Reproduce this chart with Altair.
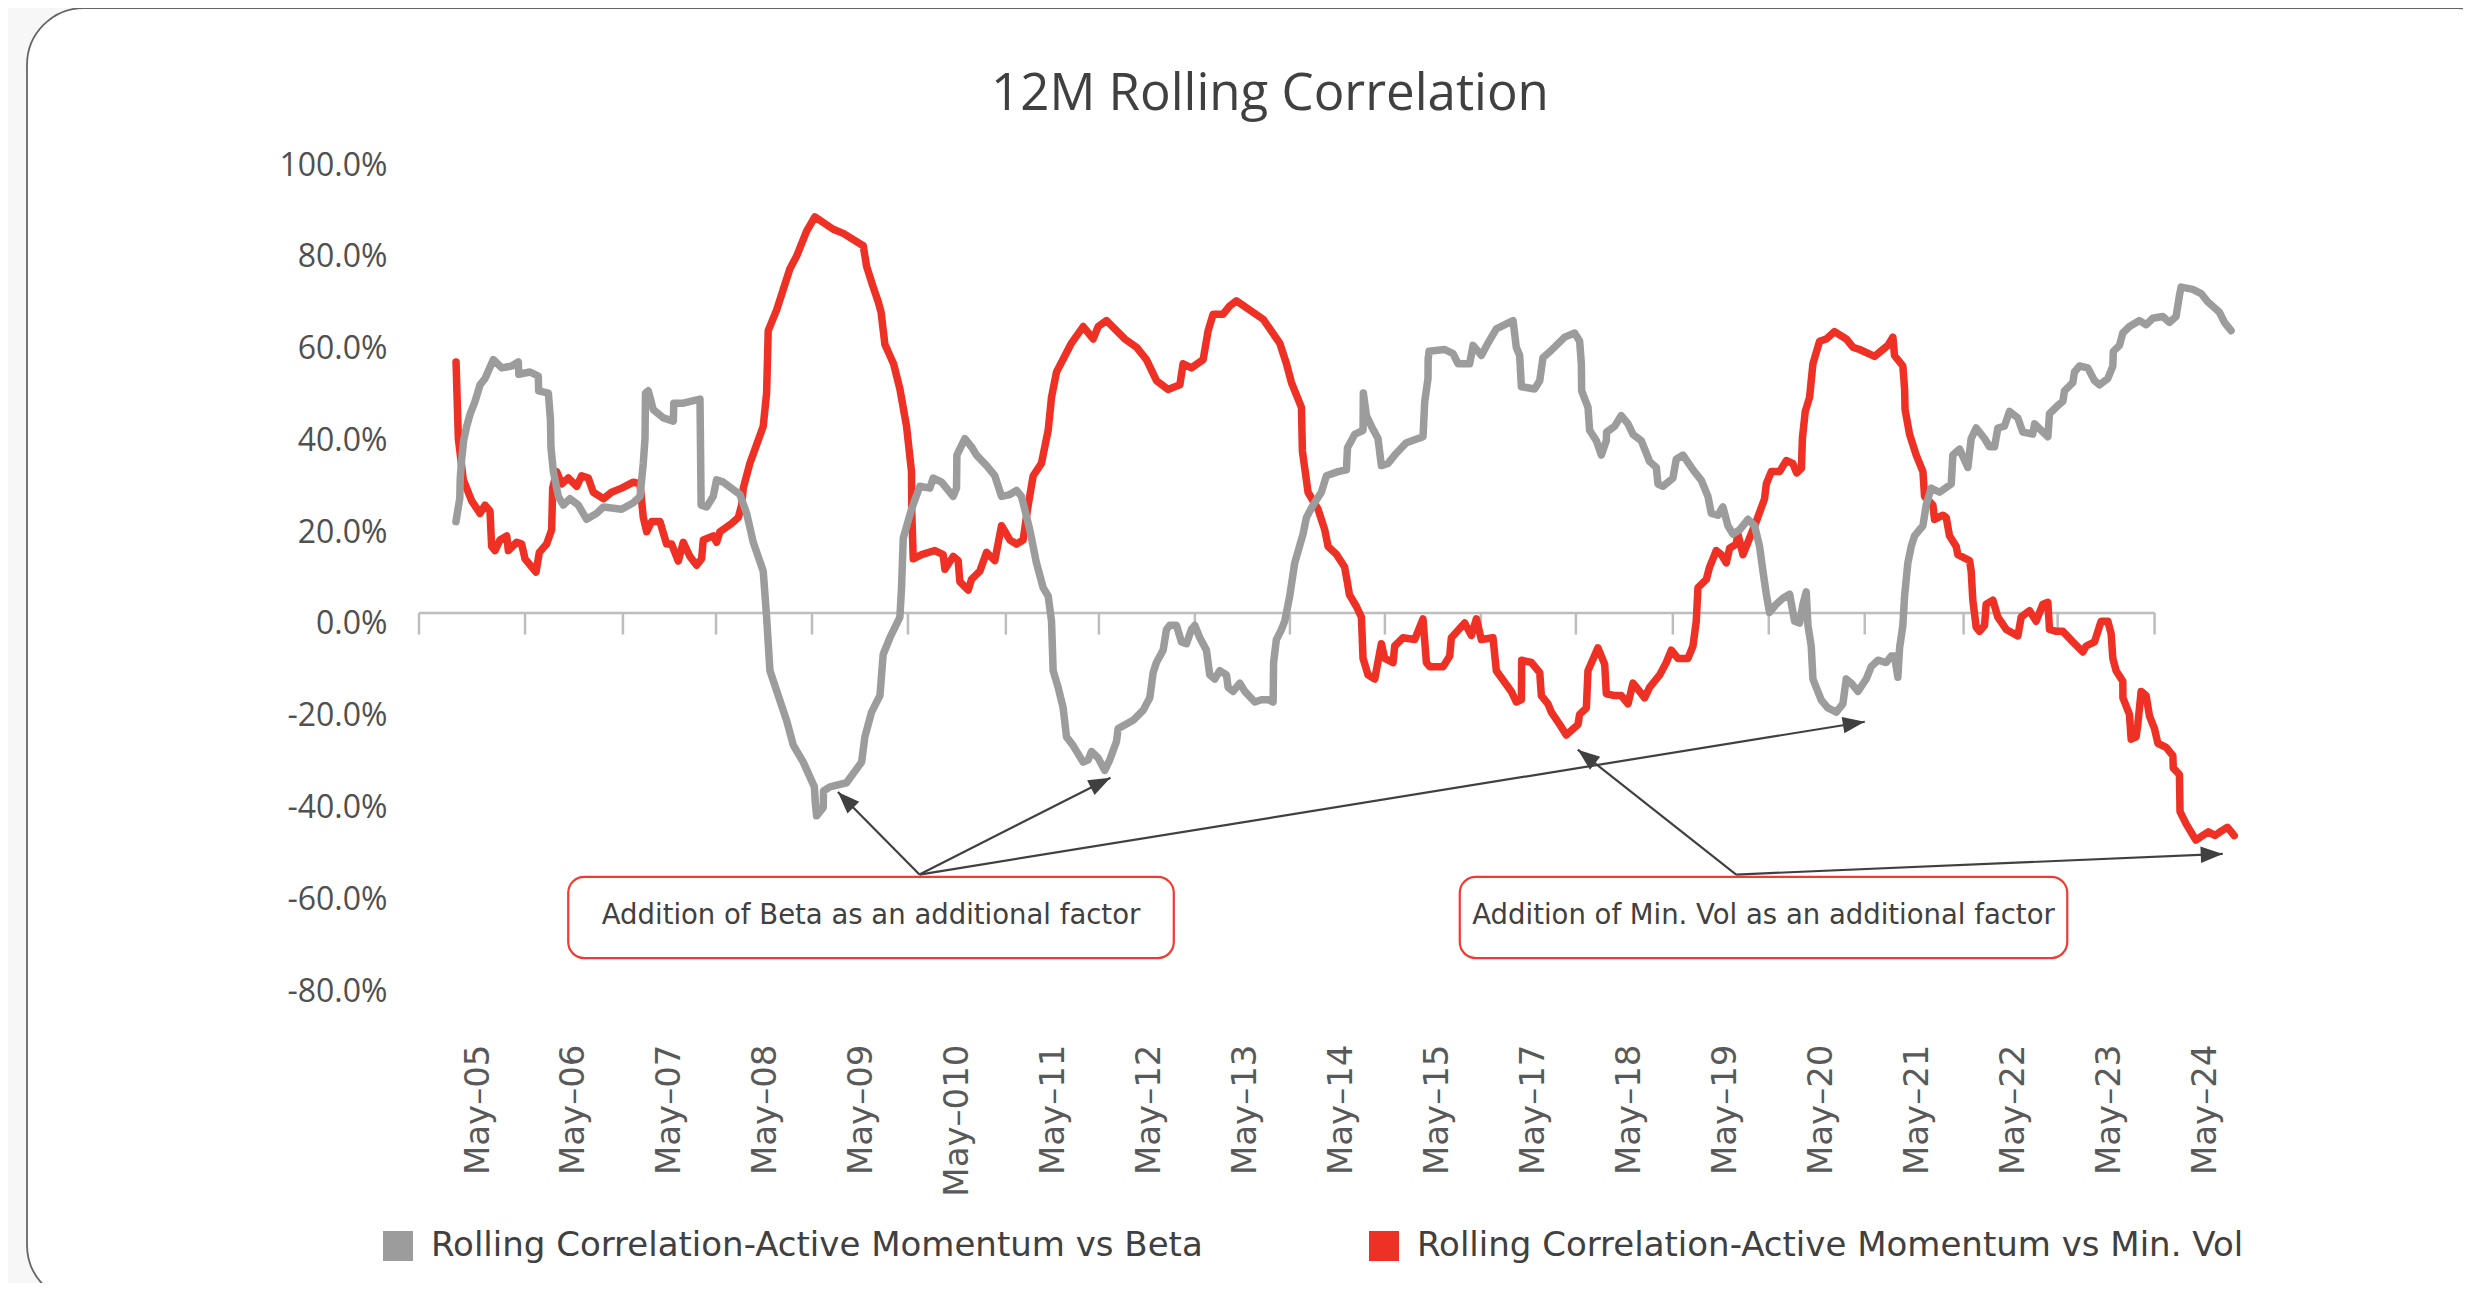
import math
import altair as alt
import pandas as pd

# ---------------- data ----------------
TITLE = "12M Rolling Correlation"
S_BETA = "Rolling Correlation-Active Momentum vs Beta"
S_MINVOL = "Rolling Correlation-Active Momentum vs Min. Vol"

x_labels = ["May–05", "May–06", "May–07", "May–08", "May–09", "May–010", "May–11",
            "May–12", "May–13", "May–14", "May–15", "May–17", "May–18", "May–19",
            "May–20", "May–21", "May–22", "May–23", "May–24"]
x_label_pos = list(range(len(x_labels)))
y_ticks = [-80, -60, -40, -20, 0, 20, 40, 60, 80, 100]

axis_t = [-0.615, 0.49, 1.51, 2.48, 3.48, 4.48, 5.50, 6.47, 7.47, 8.46, 9.45,
          10.45, 11.44, 12.45, 13.45, 14.45, 15.48, 16.46, 17.47]

red_t = [-0.229, -0.205, -0.153, -0.066, 0.021, 0.073, 0.125, 0.142, 0.177, 0.229, 0.299, 0.316,
         0.403, 0.455, 0.490, 0.604, 0.639, 0.715, 0.767, 0.778, 0.819, 0.872, 0.941, 1.028,
         1.080, 1.149, 1.201, 1.306, 1.392, 1.497, 1.618, 1.688, 1.722, 1.757, 1.809, 1.896,
         1.965, 2.017, 2.087, 2.139, 2.208, 2.278, 2.330, 2.347, 2.451, 2.486, 2.521, 2.642,
         2.712, 2.747, 2.764, 2.833, 2.972, 3.007, 3.024, 3.111, 3.250, 3.319, 3.424, 3.510,
         3.701, 3.806, 4.014, 4.049, 4.118, 4.170, 4.20, 4.24, 4.33, 4.396, 4.465, 4.517,
         4.52, 4.535, 4.622, 4.760, 4.847, 4.865, 4.951, 5.003, 5.021, 5.108, 5.142, 5.229,
         5.299, 5.385, 5.455, 5.542, 5.611, 5.680, 5.733, 5.785, 5.871, 5.941, 5.976, 6.028,
         6.184, 6.306, 6.410, 6.462, 6.549, 6.739, 6.861, 6.965, 7.070, 7.191, 7.313, 7.347,
         7.434, 7.556, 7.608, 7.660, 7.764, 7.833, 7.903, 8.181, 8.354, 8.424, 8.476, 8.580,
         8.59, 8.649, 8.753, 8.823, 8.858, 8.944, 9.03, 9.06, 9.08, 9.153, 9.205, 9.222,
         9.274, 9.344, 9.413, 9.448, 9.535, 9.552, 9.639, 9.760, 9.847, 9.882, 9.917, 10.056,
         10.125, 10.142, 10.281, 10.351, 10.403, 10.455, 10.576, 10.611, 10.767, 10.819, 10.872, 10.875,
         10.976, 11.063, 11.080, 11.149, 11.184, 11.271, 11.340, 11.462, 11.479, 11.549, 11.566, 11.670,
         11.740, 11.757, 11.844, 11.913, 11.983, 12.035, 12.104, 12.156, 12.208, 12.313, 12.382, 12.434,
         12.503, 12.608, 12.660, 12.694, 12.712, 12.799, 12.833, 12.903, 12.955, 13.007, 13.042, 13.111,
         13.128, 13.181, 13.267, 13.319, 13.406, 13.424, 13.476, 13.563, 13.632, 13.70, 13.74, 13.79,
         13.80, 13.83, 13.875, 13.910, 13.979, 14.049, 14.135, 14.257, 14.326, 14.396, 14.552, 14.639,
         14.691, 14.743, 14.760, 14.847, 14.865, 14.87, 14.917, 14.986, 15.056, 15.073, 15.160, 15.177,
         15.264, 15.299, 15.333, 15.403, 15.420, 15.542, 15.559, 15.576, 15.611, 15.646, 15.698, 15.715,
         15.785, 15.837, 15.924, 16.045, 16.080, 16.167, 16.236, 16.306, 16.358, 16.375, 16.444, 16.514,
         16.618, 16.722, 16.757, 16.844, 16.913, 16.983, 17.017, 17.035, 17.069, 17.139, 17.14, 17.208,
         17.226, 17.278, 17.295, 17.330, 17.382, 17.417, 17.469, 17.504, 17.590, 17.660, 17.665, 17.729,
         17.735, 17.80, 17.90, 17.97, 18.03, 18.10, 18.16, 18.23, 18.30]
red_v = [54.7, 38.0, 29.0, 24.4, 21.7, 23.5, 22.2, 14.5, 13.6, 15.9, 16.8, 13.6,
         15.4, 15.0, 11.8, 8.9, 13.2, 15.0, 18.1, 27.2, 30.8, 28.1, 29.4, 27.6,
         29.9, 29.4, 26.3, 24.9, 26.3, 27.2, 28.5, 28.1, 20.8, 17.7, 19.9, 19.9,
         15.0, 15.0, 11.3, 15.4, 12.3, 10.4, 11.8, 15.9, 16.8, 15.4, 17.7, 19.5,
         20.8, 23.5, 27.2, 32.6, 40.7, 47.9, 61.5, 66.0, 75.0, 77.7, 83.2, 86.3,
         83.6, 82.7, 80.0, 75.5, 71.0, 67.8, 65.5, 58.5, 54.3, 48.8, 40.7, 30.8,
         21.7, 11.8, 12.7, 13.6, 12.7, 9.5, 12.3, 11.4, 6.8, 5.0, 7.3, 9.1,
         13.2, 11.4, 19.0, 15.9, 15.0, 15.9, 23.5, 29.9, 32.6, 39.8, 47.0, 52.5,
         58.8, 62.4, 59.7, 62.4, 63.7, 59.7, 57.9, 55.2, 50.6, 48.7, 49.7, 54.3,
         53.4, 55.2, 61.5, 65.1, 65.1, 66.9, 68.0, 64.0, 58.8, 54.3, 50.2, 44.8,
         35.3, 26.3, 22.6, 18.1, 14.5, 12.8, 10.0, 6.5, 4.0, 1.4, -0.9, -9.9,
         -13.5, -14.4, -6.7, -9.9, -10.8, -7.2, -5.4, -5.8, -1.3, -10.8, -11.7, -11.7,
         -9.4, -5.4, -2.2, -4.9, -1.3, -5.8, -5.4, -12.6, -17.1, -19.4, -18.9, -10.3,
         -10.8, -13.0, -18.0, -19.8, -21.6, -24.3, -26.6, -24.3, -22.1, -20.7, -12.6, -7.6,
         -11.2, -17.6, -18.0, -18.0, -19.8, -15.3, -17.1, -18.5, -16.2, -13.5, -10.8, -8.1,
         -9.9, -9.9, -7.2, -1.8, 5.5, 7.3, 10.0, 13.6, 12.7, 10.9, 14.1, 15.0,
         17.2, 12.7, 17.2, 19.9, 24.9, 28.1, 30.8, 30.8, 33.2, 32.6, 30.5, 31.5,
         38.0, 43.9, 47.0, 54.3, 59.2, 59.7, 61.3, 59.7, 57.9, 57.4, 55.9, 57.4,
         58.3, 60.1, 56.1, 53.8, 48.8, 44.3, 38.9, 34.4, 30.8, 25.4, 23.5, 20.4,
         21.3, 20.8, 16.8, 14.5, 12.7, 11.4, 9.1, 2.8, -3.1, -4.0, -2.7, 1.9,
         2.8, -0.9, -3.6, -5.0, -0.9, 0.5, -1.8, 1.9, 2.3, -3.6, -4.0, -4.0,
         -6.3, -8.5, -7.2, -6.3, -1.8, -1.8, -4.5, -9.9, -12.6, -14.9, -18.5, -22.1,
         -27.5, -27.0, -24.3, -17.1, -18.0, -22.5, -25.2, -28.4, -29.3, -31.1, -33.8, -35.2,
         -43.3, -46.0, -49.5, -48.5, -47.7, -48.5, -47.6, -46.7, -48.5]

gray_t = [-0.23, -0.19, -0.185, -0.17, -0.15, -0.12, -0.08, -0.031, 0.021, 0.073, 0.160, 0.247,
          0.351, 0.420, 0.425, 0.542, 0.628, 0.632, 0.733, 0.755, 0.76, 0.785, 0.837, 0.889,
          0.958, 1.045, 1.132, 1.236, 1.306, 1.497, 1.618, 1.688, 1.722, 1.740, 1.745, 1.774,
          1.826, 1.931, 2.035, 2.04, 2.139, 2.313, 2.325, 2.382, 2.451, 2.486, 2.556, 2.729,
          2.799, 2.868, 2.972, 3.007, 3.042, 3.215, 3.285, 3.389, 3.505, 3.515, 3.528, 3.597,
          3.60, 3.667, 3.840, 3.997, 4.031, 4.101, 4.188, 4.222, 4.292, 4.396, 4.413, 4.431,
          4.517, 4.604, 4.708, 4.743, 4.830, 4.951, 4.986, 4.99, 5.073, 5.142, 5.194, 5.299,
          5.385, 5.455, 5.542, 5.611, 5.663, 5.750, 5.819, 5.889, 5.941, 5.976, 5.993, 6.045,
          6.097, 6.132, 6.201, 6.306, 6.358, 6.392, 6.462, 6.531, 6.583, 6.653, 6.670, 6.826,
          6.931, 7.000, 7.035, 7.069, 7.139, 7.174, 7.208, 7.278, 7.330, 7.382, 7.434, 7.469,
          7.521, 7.590, 7.625, 7.677, 7.729, 7.799, 7.816, 7.868, 7.938, 7.990, 8.094, 8.163,
          8.233, 8.285, 8.29, 8.319, 8.372, 8.406, 8.458, 8.510, 8.597, 8.632, 8.701, 8.788,
          8.840, 8.962, 9.049, 9.06, 9.135, 9.222, 9.225, 9.257, 9.309, 9.378, 9.413, 9.483,
          9.569, 9.674, 9.847, 9.865, 9.899, 9.90, 9.91, 10.073, 10.160, 10.212, 10.333, 10.368,
          10.455, 10.524, 10.611, 10.785, 10.819, 10.854, 10.872, 11.010, 11.063, 11.097, 11.167, 11.323,
          11.427, 11.479, 11.497, 11.50, 11.566, 11.583, 11.653, 11.705, 11.757, 11.76, 11.844, 11.913,
          11.983, 12.035, 12.122, 12.208, 12.278, 12.295, 12.347, 12.451, 12.486, 12.556, 12.660, 12.747,
          12.816, 12.851, 12.920, 12.972, 13.024, 13.076, 13.146, 13.233, 13.302, 13.354, 13.389, 13.424,
          13.458, 13.528, 13.597, 13.667, 13.719, 13.771, 13.806, 13.840, 13.858, 13.892, 13.910, 13.997,
          14.066, 14.153, 14.222, 14.257, 14.309, 14.379, 14.465, 14.517, 14.587, 14.674, 14.726, 14.760,
          14.795, 14.813, 14.847, 14.865, 14.899, 14.934, 14.969, 15.056, 15.090, 15.142, 15.229, 15.351,
          15.368, 15.438, 15.524, 15.559, 15.611, 15.698, 15.750, 15.802, 15.837, 15.906, 15.958, 16.045,
          16.097, 16.20, 16.22, 16.288, 16.358, 16.375, 16.462, 16.514, 16.531, 16.618, 16.635, 16.688,
          16.774, 16.844, 16.896, 16.983, 17.035, 17.04, 17.104, 17.139, 17.208, 17.313, 17.382, 17.451,
          17.556, 17.625, 17.694, 17.729, 17.747, 17.868, 17.955, 18.024, 18.146, 18.198, 18.267]
gray_v = [19.9, 25.0, 29.5, 33.5, 37.5, 40.5, 43.5, 46.1, 49.7, 51.1, 55.2, 53.4,
          53.8, 54.7, 52.0, 52.5, 51.6, 48.4, 47.9, 42.0, 36.0, 30.8, 25.4, 23.5,
          24.9, 23.5, 20.4, 21.7, 23.1, 22.6, 24.0, 25.4, 32.6, 38.0, 47.9, 48.4,
          44.3, 42.5, 41.8, 45.7, 45.7, 46.6, 23.5, 23.1, 25.4, 29.0, 28.5, 25.8,
          21.7, 15.4, 9.1, -0.9, -12.6, -23.4, -28.8, -32.5, -37.9, -41.5, -44.2, -42.4,
          -38.8, -37.9, -37.0, -32.5, -27.0, -21.6, -18.0, -9.0, -5.4, -0.9, 5.5, 16.3,
          22.6, 27.6, 27.2, 29.4, 28.5, 25.4, 27.2, 34.4, 38.0, 36.2, 34.4, 32.1,
          29.9, 25.4, 25.8, 26.7, 25.4, 18.1, 10.9, 5.5, 3.7, -1.8, -12.6, -16.2,
          -20.7, -27.0, -28.9, -32.5, -32.0, -30.2, -31.6, -34.3, -32.0, -28.0, -25.2, -23.4,
          -21.2, -18.5, -13.0, -10.8, -8.1, -3.6, -2.7, -2.7, -6.3, -6.7, -3.6, -2.7,
          -5.4, -8.1, -13.5, -14.4, -12.6, -13.5, -16.2, -17.1, -15.3, -17.1, -19.4, -18.9,
          -18.9, -19.4, -10.8, -5.8, -3.6, -1.8, 3.7, 10.9, 17.2, 20.8, 23.5, 26.3,
          29.9, 30.8, 31.2, 36.0, 38.9, 39.8, 47.9, 43.0, 40.7, 38.0, 32.1, 32.6,
          34.8, 37.1, 38.4, 46.1, 51.1, 55.2, 57.0, 57.4, 56.5, 54.3, 54.3, 58.3,
          56.1, 58.8, 61.9, 63.7, 57.9, 56.1, 49.3, 48.8, 50.6, 55.6, 56.9, 60.1,
          61.0, 59.2, 54.3, 48.4, 44.8, 39.8, 37.5, 34.4, 37.5, 39.4, 40.7, 43.0,
          41.2, 38.9, 37.5, 33.0, 31.7, 28.1, 27.6, 29.4, 33.5, 34.4, 31.2, 28.9,
          25.4, 21.7, 21.3, 23.1, 19.0, 17.2, 18.1, 20.4, 19.0, 14.5, 9.1, 4.1,
          0.1, 1.9, 3.2, 4.1, -1.8, -2.2, 1.9, 4.6, -2.7, -7.2, -14.4, -19.0,
          -20.7, -21.6, -19.8, -14.4, -15.3, -17.1, -14.4, -11.7, -10.3, -10.8, -9.4, -9.4,
          -14.0, -7.6, -2.7, 3.7, 10.9, 14.5, 16.8, 19.0, 23.5, 27.2, 26.3, 28.1,
          34.4, 35.7, 31.7, 38.0, 40.3, 38.0, 36.2, 36.2, 40.3, 40.7, 43.9, 42.5,
          39.4, 39.0, 41.2, 39.8, 38.4, 43.4, 45.2, 46.1, 48.4, 50.2, 52.5, 53.8,
          53.4, 50.6, 49.7, 51.1, 53.8, 57.0, 58.3, 61.0, 62.4, 63.7, 62.8, 64.2,
          64.6, 63.3, 64.6, 69.2, 71.0, 70.5, 69.6, 67.8, 65.5, 63.3, 61.5]

note_text = ["Addition of Beta as an additional factor",
             "Addition of Min. Vol as an additional factor"]
note_t0 = [0.94, 10.23]
note_t1 = [7.25, 16.56]
note_v_top = [-57.5, -57.5]
note_v_bot = [-75.2, -75.2]
note_text_v = [-66.0, -66.0]

arrow_src_t = [4.60, 4.60, 4.60, 13.11, 13.11]
arrow_src_v = [-57.0, -57.0, -57.0, -57.0, -57.0]
arrow_tip_t = [3.75, 6.59, 14.45, 11.46, 18.18]
arrow_tip_v = [-39.0, -35.9, -23.7, -29.8, -52.5]

# ---------------- style / layout ----------------
RED = "#EE3124"
GRAY = "#9C9C9C"
TEXT = "#404040"
W, H = 1821, 872
PAD = {"left": 411, "top": 146, "right": 223, "bottom": 257}
X_DOM = [-0.615, 18.36]
Y_DOM = [-90, 100]

xs = alt.Scale(domain=X_DOM, nice=False, zero=False)
ys = alt.Scale(domain=Y_DOM, nice=False, zero=False)
color_scale = alt.Scale(domain=[S_BETA, S_MINVOL], range=[GRAY, RED])

label_array = "[" + ",".join("'%s'" % s for s in x_labels) + "]"

x_axis = alt.Axis(values=x_label_pos, labelExpr=label_array + "[datum.value]", title=None,
                  domain=False, ticks=False, tickSize=0, grid=False, labelAngle=270,
                  labelAlign="right", labelBaseline="middle", labelPadding=18,
                  labelFont="DejaVu Sans", labelFontSize=34, labelColor="#595959",
                  labelOverlap=False, labelFlush=False, labelBound=False, zindex=1)
y_axis = alt.Axis(values=y_ticks,
                  labelExpr="(datum.value < 0 ? '-' : '') + format(abs(datum.value), '.1f') + '%'",
                  title=None, domain=False, ticks=False, tickSize=0, grid=False,
                  labelPadding=32, labelFont="Open Sans", labelFontSize=32, labelColor="#505050",
                  labelBaseline="middle", labelOffset=11, labelOverlap=False, zindex=1)


def X(field):
    return alt.X(field, type="quantitative", scale=xs, axis=x_axis)


def Y(field):
    return alt.Y(field, type="quantitative", scale=ys, axis=y_axis)


def px_x(t):
    return (t - X_DOM[0]) * W / (X_DOM[1] - X_DOM[0])


def px_y(v):
    return (Y_DOM[1] - v) * H / (Y_DOM[1] - Y_DOM[0])


one = pd.DataFrame({"k": [0]})

# card frame (white card on a light grey page, running off the right / bottom edges)
card = alt.Chart(one).mark_rect(fill="white", stroke="#666666", strokeWidth=1.8,
                                cornerRadius=57).encode(
    x=alt.value(-392), x2=alt.value(2095), y=alt.value(-146), y2=alt.value(1148))

# zero axis line and ticks
axis_line = alt.Chart(pd.DataFrame({"t0": [axis_t[0]], "t1": [axis_t[-1]], "v": [0]})).mark_rule(
    color="#BDBDBD", strokeWidth=2.5).encode(x=X("t0"), x2="t1", y=Y("v"))
axis_ticks = alt.Chart(pd.DataFrame({"t": axis_t, "v0": [0] * len(axis_t),
                                     "v1": [-4.7] * len(axis_t)})).mark_rule(
    color="#BDBDBD", strokeWidth=2.5).encode(x=X("t"), y=Y("v0"), y2="v1")

df_red = pd.DataFrame({"t": red_t, "v": red_v, "i": range(len(red_t))})
df_gray = pd.DataFrame({"t": gray_t, "v": gray_v, "i": range(len(gray_t))})

line_red = alt.Chart(df_red).mark_line(strokeWidth=7.5, strokeCap="round", strokeJoin="round").encode(
    x=X("t"), y=Y("v"), color=alt.value(RED), order="i:Q")
line_gray = alt.Chart(df_gray).mark_line(strokeWidth=7.5, strokeCap="round", strokeJoin="round").encode(
    x=X("t"), y=Y("v"), color=alt.value(GRAY), order="i:Q")

# arrows
angles = []
for st, sv, tt, tv in zip(arrow_src_t, arrow_src_v, arrow_tip_t, arrow_tip_v):
    dx = px_x(tt) - px_x(st)
    dy = px_y(tv) - px_y(sv)
    angles.append(math.degrees(math.atan2(dx, -dy)) % 360)
df_arrow = pd.DataFrame({"t0": arrow_src_t, "v0": arrow_src_v, "t1": arrow_tip_t,
                         "v1": arrow_tip_v, "ang": angles})
shafts = alt.Chart(df_arrow).mark_rule(color=TEXT, strokeWidth=2.2).encode(
    x=X("t0"), y=Y("v0"), x2="t1", y2="v1")
heads = alt.Chart(df_arrow).mark_point(shape="M0,0L0.75,2L-0.75,2Z", filled=True, size=484,
                                       color=TEXT, opacity=1, strokeWidth=0).encode(
    x=X("t1"), y=Y("v1"), angle=alt.Angle("ang:Q", scale=None))

# note boxes
df_note = pd.DataFrame({"t0": note_t0, "t1": note_t1, "vt": note_v_top, "vb": note_v_bot,
                        "tv": note_text_v, "txt": note_text,
                        "tc": [(a + b) / 2 for a, b in zip(note_t0, note_t1)]})
boxes = alt.Chart(df_note).mark_rect(fill="white", stroke="#F03A32", strokeWidth=2.2,
                                     cornerRadius=16).encode(
    x=X("t0"), x2="t1", y=Y("vt"), y2="vb")
box_text = alt.Chart(df_note).mark_text(font="DejaVu Sans", fontSize=27.5, color=TEXT,
                                        align="center", baseline="middle").encode(
    x=X("tc"), y=Y("tv"), text="txt:N")

# title
title = alt.Chart(one).mark_text(text=TITLE, font="Open Sans", fontSize=51, fontWeight=500,
                                 color=TEXT, align="center", baseline="alphabetic").encode(
    x=alt.value(851), y=alt.value(-44))

# legend (filled squares, colour scale)
legend_layer = alt.Chart(alt.Data(values=[])).mark_square(filled=True, opacity=1).encode(
    color=alt.Color("series:N", scale=color_scale,
                    legend=alt.Legend(orient="none", legendX=-38, legendY=1075,
                                      direction="horizontal", title=None, symbolType="square",
                                      symbolSize=900, symbolStrokeWidth=0, symbolOpacity=1,
                                      labelFont="DejaVu Sans", labelFontSize=34, labelColor=TEXT,
                                      labelOffset=16, columnPadding=164, labelLimit=2000,
                                      padding=0, zindex=1)))

chart = alt.layer(card, axis_line, axis_ticks, line_red, line_gray, shafts, heads, boxes,
                  box_text, title, legend_layer).properties(
    width=W, height=H, background="#F7F7F7", padding=PAD,
    autosize=alt.AutoSizeParams(type="none")
).configure_view(stroke=None)

chart.save("out.html", embed_options={"renderer": "svg", "actions": False})
